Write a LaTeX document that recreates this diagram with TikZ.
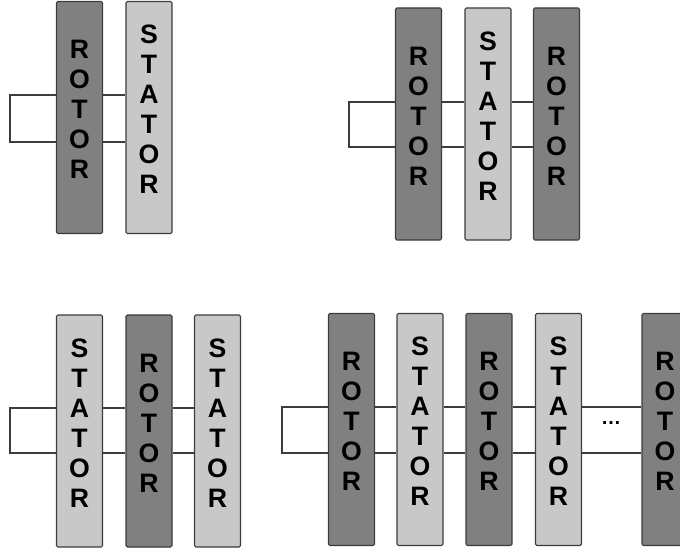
\documentclass[tikz,border=0pt]{standalone}
\usepackage{fontspec}
\setmainfont{Liberation Sans}
\newfontfamily\barfont{Liberation Sans Bold}
\usetikzlibrary{positioning}
\definecolor{rotorgray}{HTML}{808080}
\definecolor{statorgray}{HTML}{C8C8C8}
\definecolor{edgegray}{HTML}{3C3C3C}
\newcommand{\rotortxt}{R\\O\\T\\O\\R}
\newcommand{\statortxt}{S\\T\\A\\T\\O\\R}

\begin{document}
\begin{tikzpicture}[x=0.75pt,y=-0.75pt,
  bar/.style={draw=edgegray,line width=0.8pt,rounded corners=1pt,
              minimum width=34.5pt,minimum height=174pt,inner sep=0pt},
  rotor/.style={bar,fill=rotorgray},
  stator/.style={bar,fill=statorgray},
  lbl/.style={font=\barfont\fontsize{20}{22.5}\selectfont,align=center,inner sep=0pt},
  wire/.style={draw=edgegray,line width=1pt}]
  \clip (0,0) rectangle (680,552);
  % bars: name / x / y / kind
  \foreach \n/\x/\y/\k in {a1/79.5/117.5/rotor,a2/149/117.5/stator,
      b1/418.5/124/rotor,b2/488/124/stator,b3/556.5/124/rotor,
      c1/79.5/431/stator,c2/149/431/rotor,c3/217.5/431/stator,
      d1/351.5/429.5/rotor,d2/420/429.5/stator,d3/489/429.5/rotor,
      d4/558.5/429.5/stator,d5/665/429.5/rotor}
  {
    \node[\k] (\n) at (\x,\y) {};
    \node[lbl] (\n-t) at ([yshift=6pt]\n.center) {\csname \k txt\endcsname};
  }
  % wires between neighbouring bars
  \foreach \p/\q/\ya/\yb in {a1/a2/95/142,b1/b2/102/147,b2/b3/102/147,
      c1/c2/408/453,c2/c3/408/453,d1/d2/407/453,d2/d3/407/453,
      d3/d4/407/453,d4/d5/407/453}
  {
    \draw[wire] (\p.east |- 0,\ya) -- (\q.west |- 0,\ya);
    \draw[wire] (\p.east |- 0,\yb) -- (\q.west |- 0,\yb);
  }
  % return loops on the left
  \foreach \p/\ya/\yb in {a1/95/142,b1/102/147,c1/408/453,d1/407/453}
    \draw[wire] (\p.west |- 0,\ya) -- ++(-46,0) |- (\p.west |- 0,\yb);
  \node[font=\barfont\fontsize{15}{15}\selectfont] (dots) at (611,423) {\ldots};
\end{tikzpicture}
\end{document}
